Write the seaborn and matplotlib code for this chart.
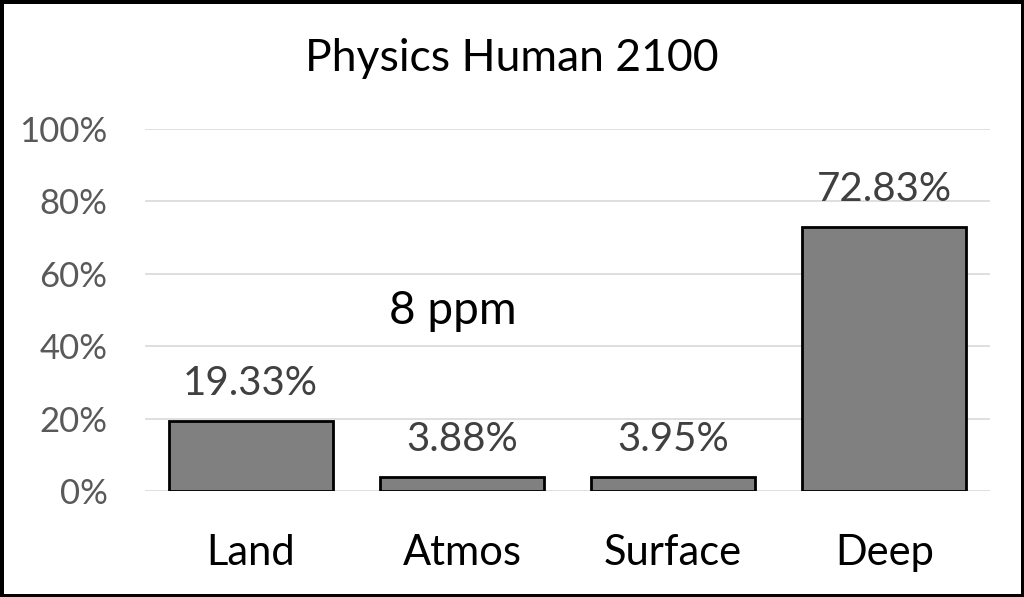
import matplotlib
matplotlib.use("Agg")
import matplotlib.pyplot as plt
import seaborn as sns
import pandas as pd

# datos
categorias = ["Land", "Atmos", "Surface", "Deep"]
porcentajes = [19.33, 3.88, 3.95, 72.83]
marcas_y = [0, 20, 40, 60, 80, 100]
titulo = "Physics Human 2100"
nota = "8 ppm"

df = pd.DataFrame({"cat": categorias, "pct": porcentajes})

sns.set_theme(style="white")
plt.rcParams["font.family"] = ["Lato", "DejaVu Sans"]

fig = plt.figure(figsize=(10.24, 5.97), dpi=100)
fig.patch.set_edgecolor("black")
fig.patch.set_linewidth(5)
ax = fig.add_axes([0.1416, 0.1776, 0.8252, 0.6064])

sns.barplot(data=df, x="cat", y="pct", color="#808080", saturation=1,
            width=0.776, edgecolor="black", linewidth=2, ax=ax, zorder=3)

ax.set_xlim(-0.5, 3.5)
ax.set_ylim(0, 100)
ax.set_yticks(marcas_y)
ax.set_yticklabels([f"{v}%" for v in marcas_y])
ax.grid(axis="y", color="#d9d9d9", linewidth=1.2, zorder=0)
for s in ax.spines.values():
    s.set_visible(False)
ax.set_xlabel("")
ax.set_ylabel("")
ax.tick_params(axis="y", length=0, pad=27, labelsize=25, labelcolor="#595959")
ax.tick_params(axis="x", length=0, pad=31, labelsize=30, labelcolor="black")

for i, v in enumerate(porcentajes):
    ax.annotate(f"{v:.2f}%", (i, v), xytext=(0, 27), textcoords="offset points",
                ha="center", va="center", fontsize=29, color="#404040")

ax.text(0.958, 49.7, nota, ha="center", va="center", fontsize=33, color="black")
fig.text(0.5, 0.902, titulo, ha="center", va="center", fontsize=32, color="black")

fig.savefig("out.png", dpi=100)
